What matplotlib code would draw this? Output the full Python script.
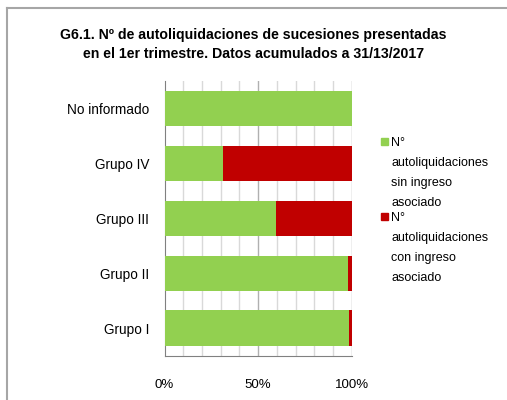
import matplotlib
matplotlib.use("Agg")
import matplotlib.pyplot as plt
from matplotlib.patches import Rectangle
from matplotlib.lines import Line2D
from matplotlib import font_manager

# data (percent of total)
categorias = ["Grupo I", "Grupo II", "Grupo III", "Grupo IV", "No informado"]
sin_ingreso = [98.6, 98.0, 59.6, 31.5, 100.0]
con_ingreso = [1.4, 2.0, 40.4, 68.5, 0.0]
etiquetas = ["N°\nautoliquidaciones\nsin ingreso\nasociado",
             "N°\nautoliquidaciones\ncon ingreso\nasociado"]
colores = ["#92D050", "#C00000"]

names = {f.name for f in font_manager.fontManager.ttflist}
fam = "Liberation Sans Narrow" if "Liberation Sans Narrow" in names else "Liberation Sans"
plt.rcParams["font.family"] = [fam, "DejaVu Sans"]

W, H = 507, 400
fig = plt.figure(figsize=(W / 100, H / 100), dpi=100)
ax = fig.add_axes([164.5 / W, 1 - 355.5 / H, (351.7 - 164.5) / W, (355.5 - 81) / H])

y = range(len(categorias))
ax.barh(y, sin_ingreso, height=0.64, color=colores[0], zorder=3)
ax.barh(y, con_ingreso, left=sin_ingreso, height=0.64, color=colores[1], zorder=3)

ax.set_xlim(0, 100)
ax.set_ylim(-0.5, len(categorias) - 0.5)
ax.set_yticks(list(y))
ax.set_yticklabels(categorias, fontsize=9.8)
ax.set_xticks([0, 50, 100])
ax.set_xticklabels(["0%", "50%", "100%"], fontsize=9.5)
ax.tick_params(axis="y", length=0, pad=11)
ax.tick_params(axis="x", length=0, pad=17)

for v in range(10, 101, 10):
    c = "#B0B0B0" if v in (50, 100) else "#D9D9D9"
    ax.axvline(v, color=c, lw=1, zorder=1)

for s in ["top", "right"]:
    ax.spines[s].set_visible(False)
ax.spines["left"].set_color("#808080")
ax.spines["bottom"].set_color("#808080")

# title
fig.text(253.5 / W, 1 - 35 / H, "G6.1. Nº de autoliquidaciones de sucesiones presentadas",
         ha="center", va="center", fontsize=10.2, fontweight="bold")
fig.text(253.5 / W, 1 - 54 / H, "en el 1er trimestre. Datos acumulados a 31/13/2017",
         ha="center", va="center", fontsize=10.2, fontweight="bold")

# legend
for i, (lab, col) in enumerate(zip(etiquetas, colores)):
    top = 138 + i * 75
    fig.patches.append(Rectangle((381 / W, 1 - (top + 7) / H), 7 / W, 7 / H,
                                 transform=fig.transFigure, color=col))
    fig.text(391 / W, 1 - (top - 1) / H, lab, ha="left", va="top",
             fontsize=9, linespacing=1.88)

# frame around the chart
fig.add_artist(Line2D([7 / W, 1], [1 - 8 / H, 1 - 8 / H], color="#A6A6A6", lw=1.5,
                      transform=fig.transFigure))
fig.add_artist(Line2D([7 / W, 7 / W], [0, 1 - 8 / H], color="#A6A6A6", lw=1.5,
                      transform=fig.transFigure))

fig.savefig("out.png", dpi=100)
